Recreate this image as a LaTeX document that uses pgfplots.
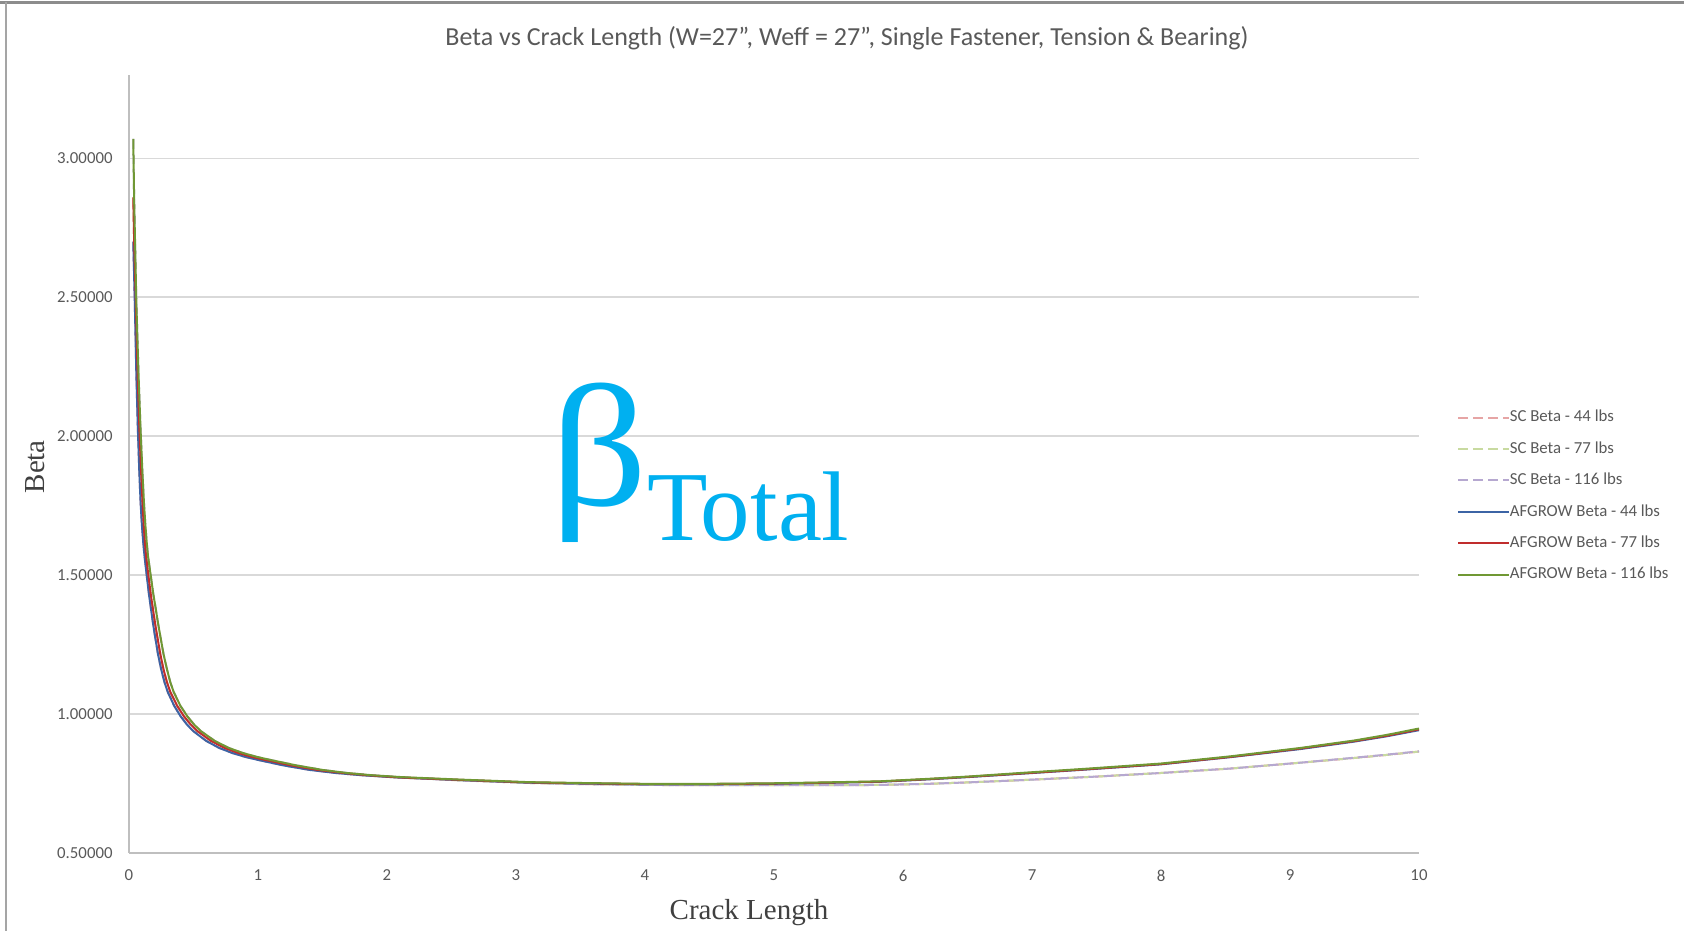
\documentclass[border=0pt]{standalone}
\usepackage{graphicx}
\usepackage{pgfplots}
\pgfplotsset{compat=1.18}
\usepackage{fontspec}
\setmainfont{Carlito}
\newfontfamily\timesf{Liberation Serif}
\definecolor{txtgray}{RGB}{89,89,89}
\definecolor{lblgray}{RGB}{64,64,64}
\definecolor{gridgray}{RGB}{217,217,217}
\definecolor{axisgray}{RGB}{191,191,191}
\definecolor{afblue}{RGB}{60,100,165}
\definecolor{afred}{RGB}{192,45,45}
\definecolor{afgreen}{RGB}{112,152,52}
\definecolor{scpink}{RGB}{230,165,165}
\definecolor{scgreen}{RGB}{200,218,160}
\definecolor{sclav}{RGB}{182,168,208}
\definecolor{betacyan}{RGB}{0,176,240}
\begin{document}
\begin{tikzpicture}
\path[use as bounding box] (-64.5bp,-39bp) rectangle (777.5bp,426.5bp);
\draw[draw={rgb,255:red,140;green,140;blue,140}, line width=1.5bp] (-64.5bp,425bp) -- (777.5bp,425bp);
\draw[draw={rgb,255:red,165;green,165;blue,165}, line width=0.8bp] (-61.5bp,-39bp) -- (-61.5bp,425.5bp);
\begin{axis}[
  at={(0,0)}, anchor=south west,
  scale only axis, width=645bp, height=389bp,
  xmin=0, xmax=10, ymin=0.5, ymax=3.3,
  axis x line*=bottom, axis y line*=left,
  axis line style={draw=axisgray, line width=0.8bp, -},
  xtick={0,1,2,3,4,5,6,7,8,9,10},
  ytick={0.5,1,1.5,2,2.5,3},
  ymajorgrids, grid style={draw=gridgray, line width=0.8bp},
  tick style={draw=none}, major tick length=0pt,
  /pgf/number format/assume math mode=true,
  ticklabel style={font=\fontsize{8.4bp}{10bp}\selectfont, text=txtgray},
  yticklabel style={/pgf/number format/.cd, fixed, fixed zerofill, precision=5, /tikz/.cd, xshift=-4.7bp},
  xticklabel style={yshift=-5bp},
  every axis title shift=0pt,
  title={Beta vs Crack Length (W=27", Weff = 27", Single Fastener, Tension \& Bearing)},
  title style={at={(axis description cs:0.5566,1.0475)}, anchor=center, yshift=0pt, font=\fontsize{13bp}{15bp}\selectfont, text=txtgray},
  xlabel={Crack Length},
  xlabel style={at={(axis description cs:0.4806,-0.0761)}, anchor=center, font=\timesf\fontsize{14.5bp}{16bp}\selectfont, text=lblgray},
  ylabel={Beta},
  ylabel style={at={(axis description cs:-0.0729,0.4965)}, anchor=center, font=\timesf\fontsize{14.5bp}{16bp}\selectfont, text=lblgray},
  legend style={at={(axis description cs:1.0295,0.4587)}, anchor=west, draw=none, fill=none,
    inner sep=0pt, row sep=7.9bp, font=\fontsize{8.4bp}{10bp}\selectfont, text=txtgray,
    nodes={inner sep=0pt, text height=6bp, text depth=1.8bp}},
  legend cell align=left,
  legend image code/.code={\draw[#1] (0bp,0bp) -- (22.6bp,0bp); \path (0bp,0bp) -- (25.2bp,0bp);},
]
% SC Beta - 44 lbs
\addplot[scpink, line width=1bp, dash pattern=on 5bp off 2.5bp] coordinates {
(0.033,2.70)(0.045,2.48)(0.057,2.22)(0.069,2.02)(0.080,1.87)(0.090,1.76)(0.100,1.68)(0.110,1.62)(0.120,1.57)(0.137,1.50)(0.155,1.43)(0.170,1.38)(0.185,1.33)(0.200,1.285)(0.225,1.215)(0.250,1.16)(0.275,1.115)(0.300,1.08)(0.350,1.03)(0.400,0.992)(0.450,0.962)(0.500,0.938)(0.600,0.903)(0.700,0.878)(0.800,0.860)(0.900,0.846)(1.00,0.835)(1.20,0.815)(1.40,0.799)(1.60,0.788)(1.80,0.780)(2.07,0.772)(2.58,0.761)(3.10,0.752)(3.50,0.748)(4.00,0.745)(4.50,0.744)(5.00,0.744)(5.50,0.744)(5.82,0.745)(6.20,0.749)(6.50,0.754)(6.91,0.762)(7.50,0.775)(8.00,0.788)(8.54,0.804)(9.08,0.825)(9.50,0.842)(9.75,0.853)(10.0,0.865)};
\addlegendentry{SC Beta - 44 lbs}
% SC Beta - 77 lbs
\addplot[scgreen, line width=1bp, dash pattern=on 5bp off 2.5bp] coordinates {
(0.033,2.86)(0.040,2.70)(0.053,2.48)(0.067,2.22)(0.081,2.02)(0.094,1.87)(0.105,1.76)(0.114,1.68)(0.123,1.62)(0.132,1.57)(0.150,1.50)(0.169,1.43)(0.185,1.38)(0.201,1.33)(0.217,1.285)(0.243,1.215)(0.268,1.16)(0.294,1.115)(0.320,1.08)(0.373,1.03)(0.426,0.992)(0.479,0.962)(0.532,0.938)(0.637,0.903)(0.742,0.878)(0.846,0.860)(0.950,0.846)(1.054,0.835)(1.26,0.815)(1.46,0.799)(1.66,0.788)(1.85,0.780)(2.10,0.772)(2.58,0.761)(3.10,0.752)(3.50,0.748)(4.00,0.745)(4.50,0.744)(5.00,0.744)(5.50,0.744)(5.82,0.745)(6.20,0.749)(6.50,0.754)(6.91,0.762)(7.50,0.775)(8.00,0.788)(8.54,0.804)(9.08,0.825)(9.50,0.842)(9.75,0.853)(10.0,0.865)};
\addlegendentry{SC Beta - 77 lbs}
% SC Beta - 116 lbs
\addplot[sclav, line width=1bp, dash pattern=on 5bp off 2.5bp] coordinates {
(0.033,3.07)(0.040,2.85)(0.047,2.70)(0.057,2.48)(0.074,2.22)(0.090,2.02)(0.104,1.87)(0.116,1.76)(0.127,1.68)(0.137,1.62)(0.147,1.57)(0.168,1.50)(0.189,1.43)(0.207,1.38)(0.224,1.33)(0.241,1.285)(0.268,1.215)(0.295,1.16)(0.320,1.115)(0.346,1.08)(0.398,1.03)(0.452,0.992)(0.505,0.962)(0.559,0.938)(0.666,0.903)(0.774,0.878)(0.882,0.860)(0.990,0.846)(1.095,0.835)(1.30,0.815)(1.50,0.799)(1.69,0.788)(1.88,0.780)(2.12,0.772)(2.58,0.762)(3.10,0.753)(3.50,0.748)(4.00,0.745)(4.50,0.744)(5.00,0.744)(5.50,0.744)(5.82,0.745)(6.20,0.749)(6.50,0.754)(6.91,0.762)(7.50,0.775)(8.00,0.788)(8.54,0.804)(9.08,0.825)(9.50,0.843)(9.75,0.854)(10.0,0.866)};
\addlegendentry{SC Beta - 116 lbs}
% AFGROW Beta - 44 lbs
\addplot[afblue, line width=1bp] coordinates {
(0.033,2.70)(0.045,2.48)(0.057,2.22)(0.069,2.02)(0.080,1.87)(0.090,1.76)(0.100,1.68)(0.110,1.62)(0.120,1.57)(0.137,1.50)(0.155,1.43)(0.170,1.38)(0.185,1.33)(0.200,1.285)(0.225,1.215)(0.250,1.16)(0.275,1.115)(0.300,1.08)(0.350,1.03)(0.400,0.992)(0.450,0.962)(0.500,0.938)(0.600,0.903)(0.700,0.878)(0.800,0.860)(0.900,0.846)(1.00,0.835)(1.20,0.815)(1.40,0.799)(1.60,0.788)(1.80,0.780)(2.07,0.772)(2.58,0.762)(3.10,0.753)(3.50,0.750)(4.00,0.747)(4.50,0.747)(5.00,0.749)(5.50,0.753)(5.82,0.756)(6.20,0.765)(6.50,0.773)(6.91,0.785)(7.41,0.800)(8.00,0.819)(8.54,0.845)(9.08,0.874)(9.50,0.901)(9.75,0.920)(10.0,0.942)};
\addlegendentry{AFGROW Beta - 44 lbs}
% AFGROW Beta - 77 lbs
\addplot[afred, line width=1bp] coordinates {
(0.033,2.86)(0.040,2.70)(0.053,2.48)(0.067,2.22)(0.081,2.02)(0.094,1.87)(0.105,1.76)(0.114,1.68)(0.123,1.62)(0.132,1.57)(0.150,1.50)(0.169,1.43)(0.185,1.38)(0.201,1.33)(0.217,1.285)(0.243,1.215)(0.268,1.16)(0.294,1.115)(0.320,1.08)(0.373,1.03)(0.426,0.992)(0.479,0.962)(0.532,0.938)(0.637,0.903)(0.742,0.878)(0.846,0.860)(0.950,0.846)(1.054,0.835)(1.26,0.815)(1.46,0.799)(1.66,0.788)(1.85,0.780)(2.10,0.772)(2.58,0.763)(3.10,0.754)(3.50,0.751)(4.00,0.748)(4.50,0.748)(5.00,0.750)(5.50,0.754)(5.82,0.757)(6.20,0.766)(6.50,0.774)(6.91,0.786)(7.41,0.801)(8.00,0.820)(8.54,0.846)(9.08,0.876)(9.50,0.903)(9.75,0.922)(10.0,0.945)};
\addlegendentry{AFGROW Beta - 77 lbs}
% AFGROW Beta - 116 lbs
\addplot[afgreen, line width=1bp] coordinates {
(0.033,3.07)(0.040,2.85)(0.047,2.70)(0.057,2.48)(0.074,2.22)(0.090,2.02)(0.104,1.87)(0.116,1.76)(0.127,1.68)(0.137,1.62)(0.147,1.57)(0.168,1.50)(0.189,1.43)(0.207,1.38)(0.224,1.33)(0.241,1.285)(0.268,1.215)(0.295,1.16)(0.320,1.115)(0.346,1.08)(0.398,1.03)(0.452,0.992)(0.505,0.962)(0.559,0.938)(0.666,0.903)(0.774,0.878)(0.882,0.860)(0.990,0.846)(1.095,0.835)(1.30,0.815)(1.50,0.799)(1.69,0.788)(1.88,0.780)(2.12,0.773)(2.58,0.764)(3.10,0.755)(3.50,0.752)(4.00,0.749)(4.50,0.749)(5.00,0.751)(5.50,0.755)(5.82,0.758)(6.20,0.767)(6.50,0.775)(6.91,0.788)(7.41,0.803)(8.00,0.822)(8.54,0.848)(9.08,0.878)(9.50,0.905)(9.75,0.925)(10.0,0.948)};
\addlegendentry{AFGROW Beta - 116 lbs}
\node[anchor=base west, inner sep=0pt, text=betacyan, font=\timesf\fontsize{87bp}{87bp}\selectfont] at (axis cs:3.268,1.752) {\scalebox{1.1}[1]{β}};
\node[anchor=base west, inner sep=0pt, text=betacyan, font=\timesf\fontsize{49.5bp}{50bp}\selectfont] at (axis cs:4.015,1.626) {Total};
\end{axis}
\end{tikzpicture}
\end{document}
